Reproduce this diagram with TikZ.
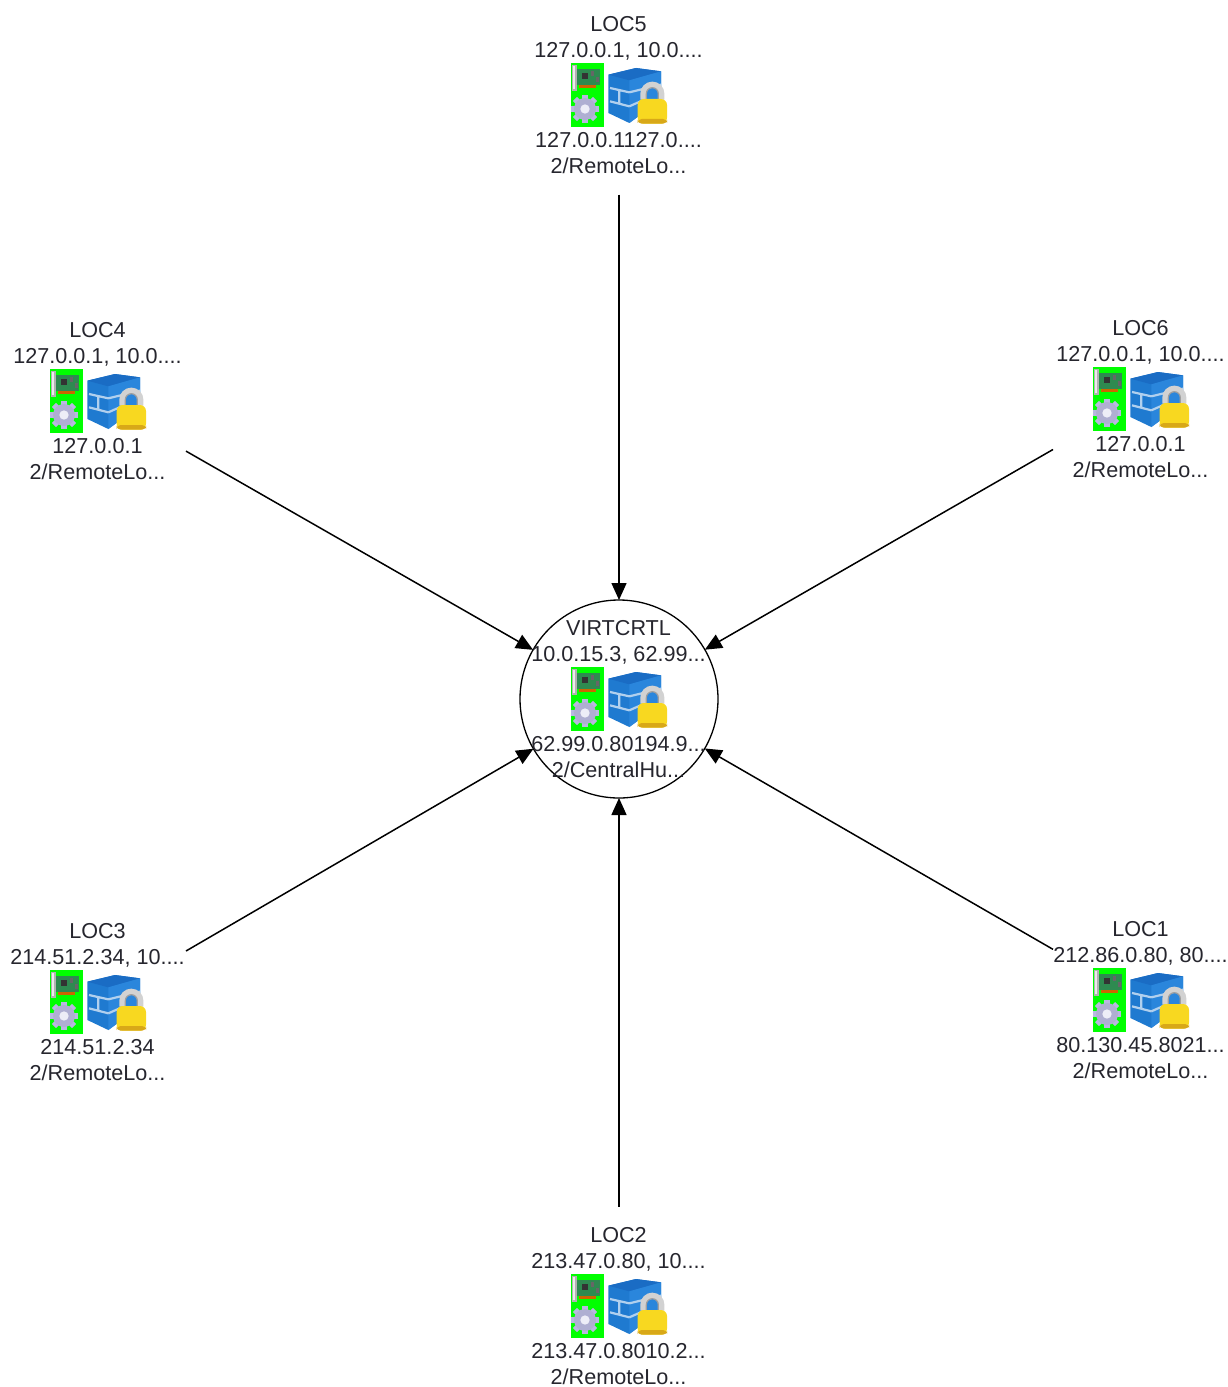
\documentclass[tikz,border=0pt]{standalone}
\usepackage{fontspec}
\setmainfont{Liberation Sans}
\usetikzlibrary{arrows.meta}
\definecolor{txt}{HTML}{26262E}
\definecolor{fwblue}{HTML}{1F7AD0}
\definecolor{fwtop}{HTML}{1A6CC4}
\definecolor{fwdark}{HTML}{2A86DC}
\definecolor{lockgold}{HTML}{F8D820}
\definecolor{lockdark}{HTML}{D8A818}
\definecolor{gearcol}{HTML}{B8B8E0}
\definecolor{pcb}{HTML}{2E8A50}
\tikzset{
  hostbox/.style={minimum width=176pt,minimum height=199pt,inner sep=0pt,outer sep=0pt},
  hubcircle/.style={circle,draw=black,line width=1.3pt,minimum size=198pt,inner sep=0pt,outer sep=0pt},
  hosttext/.style={font=\fontsize{21.6}{26}\selectfont,text=txt,align=center,inner sep=0pt},
  linkline/.style={line width=1.5pt,draw=black,-{Triangle[length=17pt,width=15pt]}}
}
\newcommand{\hosticon}[2]{%
  \begin{scope}[shift={(#1-47.5-10,#2-32-6.67)},scale=1/3]
    \fill[green] (30,20) rectangle (130,213);
    % network card
    \fill[gray!60] (32,25) rectangle (47,103);
    \fill[white!85!gray] (36,30) rectangle (43,98);
    \fill[pcb] (48,38) rectangle (118,85);
    \fill[black!80] (62,50) rectangle (82,68);
    \fill[black!60] (90,45) rectangle (100,58);
    \fill[black!60] (104,62) rectangle (114,76);
    \fill[orange!80!black] (55,85) rectangle (105,94);
    % gear
    \foreach \a in {0,45,...,315}{
      \fill[gearcol,rotate around={\a:(72,158)}] (64,116) rectangle (80,200);
    }
    \fill[gearcol!85!gray] (72,158) circle (33);
    \fill[white!75!gearcol] (72,158) circle (14);
    % firewall
    \fill[fwblue] (142,55) -- (225,35) -- (300,45) -- (300,130) -- (205,200) -- (142,170) -- cycle;
    \fill[fwtop] (142,55) -- (225,35) -- (300,45) -- (205,72) -- cycle;
    \fill[fwdark] (205,72) -- (300,45) -- (300,130) -- (205,200) -- cycle;
    \draw[white!65!fwblue,line width=2.2pt] (147,95) -- (205,108) (147,135) -- (205,150)
      (205,108) -- (300,85) (205,150) -- (250,130) (250,95) -- (250,130) (175,102) -- (175,143);
    % padlock: y axis points down, so the shackle arc runs through 270 degrees
    \draw[gray!35,line width=6pt] (247,130) -- (247,112) arc[start angle=180,end angle=360,radius=27] -- (301,130);
    \draw[gray!75,line width=1.2pt] (256,130) -- (256,112) arc[start angle=180,end angle=360,radius=18] -- (292,130);
    \fill[lockgold,rounded corners=6pt] (230,128) rectangle (318,202);
    \fill[lockdark,rounded corners=4pt] (230,188) rectangle (318,202);
  \end{scope}}
\newcommand{\hostnode}[7][hostbox]{%
  \node[#1] (#2) at (#3+0.5,#4) {};
  \hosticon{#3}{#4}
  \node[hosttext] (#2top) at (#3,#4-57) {#5};
  \node[hosttext] (#2bot) at (#3,#4+58) {#6\\#7};}
\begin{document}
\begin{tikzpicture}[x=1pt,y=-1pt]
  \useasboundingbox (0,0) rectangle (1228,1387);
  \fill[white] (0,0) rectangle (1228,1387);
  \node[hubcircle] (hub) at (619,699) {};
  \hostnode{hubicon}{618.5}{699}{VIRTCRTL\\10.0.15.3, 62.99...}{62.99.0.80194.9...}{2/CentralHu...}
  \hostnode{loc5}{618.5}{95}{LOC5\\127.0.0.1, 10.0....}{127.0.0.1127.0....}{2/RemoteLo...}
  \hostnode{loc4}{97.5}{401}{LOC4\\127.0.0.1, 10.0....}{127.0.0.1}{2/RemoteLo...}
  \hostnode{loc6}{1140.5}{399}{LOC6\\127.0.0.1, 10.0....}{127.0.0.1}{2/RemoteLo...}
  \hostnode{loc3}{97.5}{1002}{LOC3\\214.51.2.34, 10....}{214.51.2.34}{2/RemoteLo...}
  \hostnode{loc1}{1140.5}{1000}{LOC1\\212.86.0.80, 80....}{80.130.45.8021...}{2/RemoteLo...}
  \hostnode{loc2}{618.5}{1306}{LOC2\\213.47.0.80, 10....}{213.47.0.8010.2...}{2/RemoteLo...}
  \foreach \h in {loc1,loc2,loc3,loc4,loc5,loc6}{
    \draw[linkline] (\h) -- (hub);
  }
\end{tikzpicture}
\end{document}
